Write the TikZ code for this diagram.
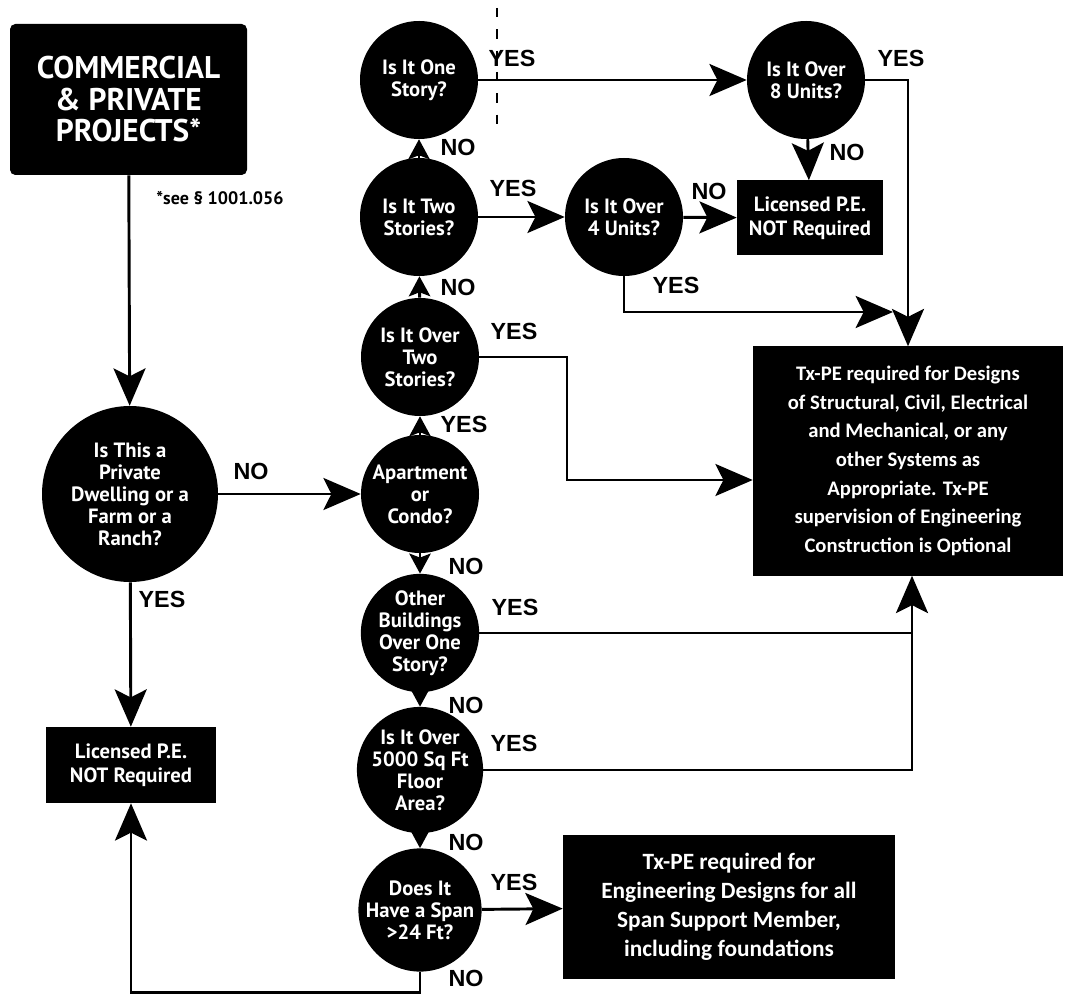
\documentclass[tikz,border=0pt]{standalone}
\usepackage{fontspec}
\setmainfont{PT Sans}
\newfontfamily\boxfont{Carlito}
\newfontfamily\ansfamily{Liberation Sans}
\usetikzlibrary{arrows.meta,positioning}

\begin{document}
\begin{tikzpicture}[x=0.75pt, y=-0.75pt,
    ask/.style={circle, fill=black, text=white, minimum size=88.5pt, inner sep=0pt, align=center,
      font=\bfseries\fontsize{15.5}{16.5}\selectfont},
    tag/.style={fill=black, text=white, align=center, inner sep=0pt,
      font=\bfseries\fontsize{15.5}{18}\selectfont},
    verdict/.style={fill=black, text=white, align=center, inner sep=0pt,
      font=\boxfont\bfseries\fontsize{15.5}{21.5}\selectfont},
    ans/.style={inner sep=0pt, font=\ansfamily\bfseries\fontsize{17.5}{20}\selectfont},
    wire/.style={line width=2.2pt},
    flow/.style={wire, -{Stealth[length=28pt, width=24pt, inset=6pt]}},
    hop/.style={wire, -{Stealth[length=15pt, width=16pt, inset=3pt]}}
  ]
  \useasboundingbox (0,0) rectangle (1074,994);

  \node[tag, rounded corners=4pt, minimum width=177.75pt, minimum height=113.25pt,
    font=\bfseries\fontsize{23.5}{23.6}\selectfont] (proj) at (128.5,99.5)
    {COMMERCIAL\\ \& PRIVATE\\ PROJECTS*};
  \node[font=\bfseries\fontsize{13.5}{15}\selectfont, inner sep=0pt] (see) at (220,198) {*see § 1001.056};

  \node[ask, minimum size=132pt] (home) at (130,494)
    {Is This a\\ Private\\ Dwelling or a\\ Farm or a\\ Ranch?};
  \node[tag, minimum width=127.5pt, minimum height=57pt] (lic1) at (131,765)
    {Licensed P.E.\\ NOT Required};

  \node[ask] (one)   at (419,80)  {Is It One\\ Story?};
  \node[ask] (two)   at (419,217) {Is It Two\\ Stories?};
  \node[ask] (over2) at (420,357) {Is It Over\\ Two\\ Stories?};
  \node[ask] (apt)   at (420,494) {Apartment\\ or\\ Condo?};
  \node[ask] (bld)   at (420,633) {Other\\ Buildings\\ Over One\\ Story?};
  \node[ask] (big)   at (420,770) {Is It Over\\ 5000 Sq Ft\\ Floor\\ Area?};
  \node[ask] (span)  at (420,910) {Does It\\ Have a Span\\ >24 Ft?};

  \node[ask] (u4) at (624,217) {Is It Over\\ 4 Units?};
  \node[ask] (u8) at (806,80)  {Is It Over\\ 8 Units?};
  \node[tag, minimum width=109.5pt, minimum height=56.25pt] (lic2) at (810,218)
    {Licensed P.E.\\ NOT Required};

  \node[verdict, minimum width=232.5pt, minimum height=171.75pt] (txpe) at (908,461)
    {Tx-PE required for Designs\\ of Structural, Civil, Electrical\\ and Mechanical, or any\\
     other Systems as\\ Appropriate. Tx-PE\\ supervision of Engineering\\ Construction is Optional};
  \node[verdict, minimum width=249pt, minimum height=108pt,
    font=\boxfont\bfseries\fontsize{17.5}{21.75}\selectfont] (spanbox) at (729,907)
    {Tx-PE required for\\ Engineering Designs for all\\ Span Support Member,\\ including foundations};

  \coordinate (meet) at (893,312);
  \coordinate (kink) at (567,480);
  \coordinate (up) at ([xshift=3pt]txpe.south);

  \draw[flow] (proj) -- (home);
  \draw[flow] (home) -- (apt);
  \draw[flow] (home) -- (lic1);
  \draw[flow] (span.south) -- ++(0,21) -| (lic1.south);

  \draw[hop] (apt) -- (over2);
  \draw[hop] (over2) -- (two);
  \draw[hop] (two) -- (one);
  \draw[hop] (apt) -- (bld);
  \draw[hop] (bld) -- (big);
  \draw[hop] (big) -- (span);

  \draw[flow] (one) -- (u8);
  \draw[flow] (two) -- (u4);
  \draw[flow] (u4) -- (lic2);
  \draw[flow] (u8) -- (lic2);
  \draw[flow] (u8.east) -| (txpe.north);
  \draw[flow] (u4.south) |- (meet);
  \draw[flow] (over2.east) -| (kink) -- (kink -| txpe.west);
  \draw[flow] (bld.east) -| (up);
  \draw[wire] (big.east) -| (bld.east -| up);
  \draw[flow] (span) -- (spanbox);

  \draw[line width=0.8pt, dash pattern=on 7pt off 9pt] (497,8) -- (497,126);

  \node[ans] (noHome)  at (251,471) {NO};
  \node[ans] (yesHome) at (162,599) {YES};
  \node[ans] (yesOne)  at (512,58)  {YES};
  \node[ans] (noTwo)   at (458,147) {NO};
  \node[ans] (yesTwo)  at (513,188) {YES};
  \node[ans] (noOver)  at (458,287) {NO};
  \node[ans] (yesOver) at (514,331) {YES};
  \node[ans] (yesApt)  at (464,424) {YES};
  \node[ans] (noApt)   at (466,566) {NO};
  \node[ans] (yesBld)  at (515,607) {YES};
  \node[ans] (noBld)   at (466,705) {NO};
  \node[ans] (yesBig)  at (514,743) {YES};
  \node[ans] (noBig)   at (466,842) {NO};
  \node[ans] (yesSpan) at (514,882) {YES};
  \node[ans] (noSpan)  at (466,978) {NO};
  \node[ans] (noU4)    at (709,191) {NO};
  \node[ans] (yesU4)   at (676,285) {YES};
  \node[ans] (noU8)    at (847,152) {NO};
  \node[ans] (yesU8)   at (901,58)  {YES};
\end{tikzpicture}
\end{document}
